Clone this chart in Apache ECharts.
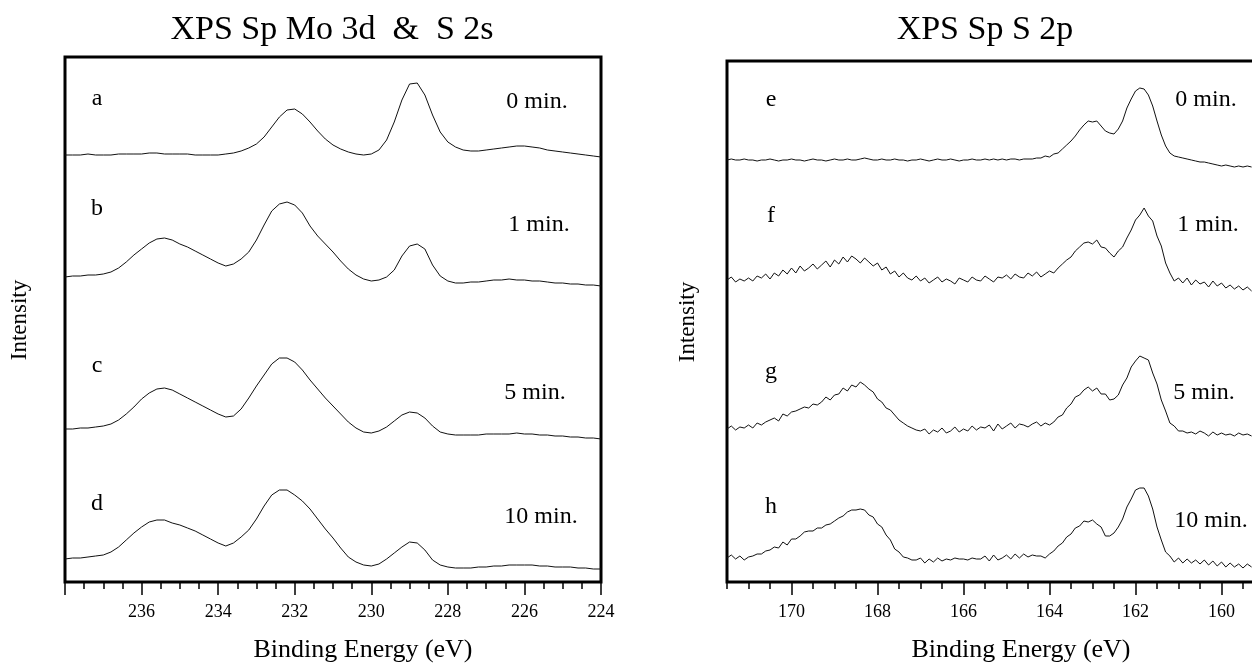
<!DOCTYPE html>
<html><head><meta charset="utf-8">
<script src="https://cdn.jsdelivr.net/npm/echarts@6/dist/echarts.min.js"></script>
<style>html,body{margin:0;padding:0;background:#fff}#c{width:1252px;height:664px}</style>
</head><body><div id="c"></div>
<script>
// ---------- DATA ----------
const titles = ['XPS Sp Mo 3d  &  S 2s', 'XPS Sp S 2p'];
const xName = 'Binding Energy (eV)';
const yName = 'Intensity';
const moLetters = ['a', 'b', 'c', 'd'];
const sLetters = ['e', 'f', 'g', 'h'];
const times = ['0 min.', '1 min.', '5 min.', '10 min.'];

// Mo 3d & S 2s : energies 238.0 -> 224.0 eV, step 0.2 eV (relative intensity, arb. units)
const moStart = 238.0, moStep = 0.2;
const moA = [5,5,5,6,5,5,5,6,6,6,6, 7,7,6,6,6,6,5,5,5,5, 6,7,9,12,16,23,33,43,50,51, 46,38,29,21,15,11,8,6,5,6, 10,20,38,60,76,77,65,45,28,18, 13,10,9,9,10,11,12,13,14,14, 13,12,10,9,8,7,6,5,4,3];
const moB = [13,14,14,15,15,16,18,22,28,35,41, 47,51,52,50,46,43,39,35,31,27, 24,26,31,38,50,65,79,86,88,85, 77,64,54,46,38,29,21,15,11,9, 10,13,20,34,44,46,41,25,14,9, 7,7,8,8,9,10,10,11,10,10, 9,9,8,7,7,6,6,5,5,4];
const moC = [16,16,17,17,18,19,21,25,31,38,46, 52,56,57,55,51,47,43,39,35,31, 28,29,36,47,59,70,81,87,87,83, 75,65,56,47,39,31,23,17,13,12, 14,18,24,30,33,32,27,19,13,11, 10,10,10,10,11,11,11,11,12,11, 11,10,10,9,9,8,8,7,7,6];
const moD = [16,17,17,18,19,20,23,28,35,42,48, 53,55,55,52,50,47,44,40,36,32, 29,32,38,45,56,69,80,85,85,80, 74,66,56,46,37,27,18,13,10,9, 11,16,22,28,33,32,25,15,10,8, 7,7,7,8,8,9,9,10,10,10, 10,9,9,8,8,8,7,7,6,6];
const moOffsets = [422, 292, 137, 7];

// S 2p : energies 171.5 -> 159.3 eV, step 0.1 eV
const sStart = 171.5, sStep = 0.1;
const sE = [10,11,10,10,11,10, 10,9,10,10,11,10,9,10,10,11, 10,10,9,10,11,10,10,9,10,11, 10,10,11,10,10,11,12,11,10,10, 11,10,10,11,10,10,9,10,10,11, 10,9,10,11,10,10,11,10,9,10, 10,11,10,10,11,10,11,10,11,10, 11,11,10,11,11,11,12,12,14,13, 16,17,21,25,29,34,40,45,49,48, 49,44,39,37,36,41,49,62,71,79, 82,81,75,64,49,35,24,17,14,13, 12,11,10,9,8,8,7,6,5,4, 5,4,3,4,3,4,3];
const sF = [15,18,13,16,14,17, 14,19,17,21,16,22,19,25,21,27, 22,29,24,27,31,26,30,34,28,35, 31,38,33,39,36,32,37,33,29,32, 25,28,21,24,18,22,17,15,19,14, 17,12,15,18,13,16,14,11,17,15, 13,18,15,14,19,16,13,18,17,20, 16,21,18,17,22,19,23,18,21,24, 22,27,31,35,38,44,48,52,53,51, 55,48,47,42,38,44,48,57,65,75, 80,87,79,74,59,49,32,22,14,17, 12,17,10,15,11,13,8,14,9,12, 7,10,6,9,5,8,4];
const sG = [11,14,10,13,12,15, 12,17,15,18,20,22,19,26,24,28, 29,31,33,32,36,35,38,43,40,45, 46,52,49,55,53,58,55,51,48,41, 38,32,30,25,20,17,14,12,10,9, 11,6,10,8,12,7,9,13,8,11, 9,14,10,13,12,15,9,16,11,14, 17,12,16,15,13,16,18,14,17,15, 18,23,25,32,36,43,45,50,53,49, 52,46,46,40,41,45,55,62,73,79, 84,82,80,67,56,40,29,17,14,9, 9,7,8,6,9,7,4,8,5,7, 5,6,4,7,5,6,4];
const sH = [17,20,16,19,15,18, 19,21,21,24,25,28,27,33,30,36, 36,39,43,44,44,47,47,50,51,54, 57,59,63,65,65,66,65,60,58,51, 48,40,35,26,23,18,17,15,15,17, 12,16,13,17,14,16,15,17,16,16, 15,17,16,16,19,14,20,15,17,20, 16,21,17,21,18,20,19,19,17,21, 24,29,32,38,41,47,49,54,53,55, 51,48,39,39,42,48,56,68,76,85, 87,87,79,66,48,35,23,19,13,17, 12,16,12,15,11,15,10,14,9,13, 8,12,8,11,7,11,8];
const sOffsets = [412, 287, 142, 7];

// axis ticks
const moMajorTicks = [238, 236, 234, 232, 230, 228, 226, 224];
const moTickLabels = [236, 234, 232, 230, 228, 226, 224];
const sMajorTicks = [170, 168, 166, 164, 162, 160];
const sTickLabels = [170, 168, 166, 164, 162, 160];

// ---------- CHART ----------
const FONT = '"Liberation Serif", "Times New Roman", serif';
const INK = '#000';

function toPairs(start, step, vals, off) {
  return vals.map((v, i) => [+(start - i * step).toFixed(2), v + off]);
}
function minorList(lo, hi, step, majors) {
  const out = [];
  for (let v = lo; v <= hi + 1e-9; v += step) {
    const r = +v.toFixed(2);
    if (!majors.includes(r)) out.push(r);
  }
  return out;
}

const L = { left: 65, top: 57, width: 536, height: 525, xMin: 224, xMax: 238, yMax: 525 };
const R = { left: 727, top: 61, width: 580.5, height: 521, xMin: 158, xMax: 171.5, yMax: 521 };

function majorAxis(grid, p, ticks, labels) {
  return {
    gridIndex: grid, type: 'value', inverse: true, min: p.xMin, max: p.xMax, position: 'bottom',
    axisLine: { show: false }, splitLine: { show: false },
    axisTick: { show: true, customValues: ticks, length: 13, lineStyle: { color: INK, width: 1.5 } },
    axisLabel: { show: true, customValues: labels, margin: 21, fontFamily: FONT, fontSize: 18, color: INK }
  };
}
function minorAxis(grid, p, list) {
  return {
    gridIndex: grid, type: 'value', inverse: true, min: p.xMin, max: p.xMax, position: 'bottom',
    axisLine: { show: false }, splitLine: { show: false },
    axisTick: { show: true, customValues: list, length: 7, lineStyle: { color: INK, width: 1.5 } },
    axisLabel: { show: false }
  };
}

const moSeries = [moA, moB, moC, moD];
const sSeries = [sE, sF, sG, sH];
const series = [];
moSeries.forEach((d, k) => series.push({
  type: 'line', xAxisIndex: 0, yAxisIndex: 0, showSymbol: false, symbol: 'none', silent: true,
  lineStyle: { color: '#111', width: 1 }, data: toPairs(moStart, moStep, d, moOffsets[k])
}));
sSeries.forEach((d, k) => series.push({
  type: 'line', xAxisIndex: 2, yAxisIndex: 1, showSymbol: false, symbol: 'none', silent: true,
  lineStyle: { color: '#111', width: 1 }, data: toPairs(sStart, sStep, d, sOffsets[k])
}));

function txt(s, x, y, size, rot) {
  return { type: 'text', x: x, y: y, rotation: rot || 0, silent: true,
    style: { text: s, font: size + 'px ' + FONT, fill: INK, textAlign: 'center', textVerticalAlign: 'middle' } };
}
const letterX = [97, 771];
const timeX = [[537, 539, 535, 541], [1206, 1208, 1204, 1211]];
const letterY = [[99, 209, 366, 504], [100, 216, 372, 507]];
const timeY = [[102, 225, 393, 517], [100, 225, 393, 521]];
const graphics = [
  txt(titles[0], 332, 30, 34), txt(titles[1], 985, 30, 34),
  txt(xName, 363, 650, 26), txt(xName, 1021, 650, 26),
  txt(yName, 20, 320, 23, Math.PI / 2), txt(yName, 688, 322, 23, Math.PI / 2)
];
moLetters.forEach((s, i) => graphics.push(txt(s, letterX[0], letterY[0][i], 24)));
sLetters.forEach((s, i) => graphics.push(txt(s, letterX[1], letterY[1][i], 24)));
times.forEach((s, i) => { graphics.push(txt(s, timeX[0][i], timeY[0][i], 24)); graphics.push(txt(s, timeX[1][i], timeY[1][i], 24)); });

const option = {
  animation: false,
  backgroundColor: '#fff',
  grid: [
    { left: L.left, top: L.top, width: L.width, height: L.height, show: true, borderColor: INK, borderWidth: 3, backgroundColor: 'transparent', containLabel: false, outerBoundsMode: 'none' },
    { left: R.left, top: R.top, width: R.width, height: R.height, show: true, borderColor: INK, borderWidth: 3, backgroundColor: 'transparent', containLabel: false, outerBoundsMode: 'none' }
  ],
  xAxis: [
    majorAxis(0, L, moMajorTicks, moTickLabels),
    minorAxis(0, L, minorList(224, 238, 0.5, moMajorTicks)),
    majorAxis(1, R, sMajorTicks, sTickLabels),
    minorAxis(1, R, minorList(158.5, 171.5, 0.5, sMajorTicks))
  ],
  yAxis: [
    { gridIndex: 0, type: 'value', min: 0, max: L.yMax, show: false },
    { gridIndex: 1, type: 'value', min: 0, max: R.yMax, show: false }
  ],
  graphic: graphics,
  series: series
};
const chart = echarts.init(document.getElementById('c'), null, { renderer: 'canvas' });
chart.setOption(option);
</script>
</body></html>
